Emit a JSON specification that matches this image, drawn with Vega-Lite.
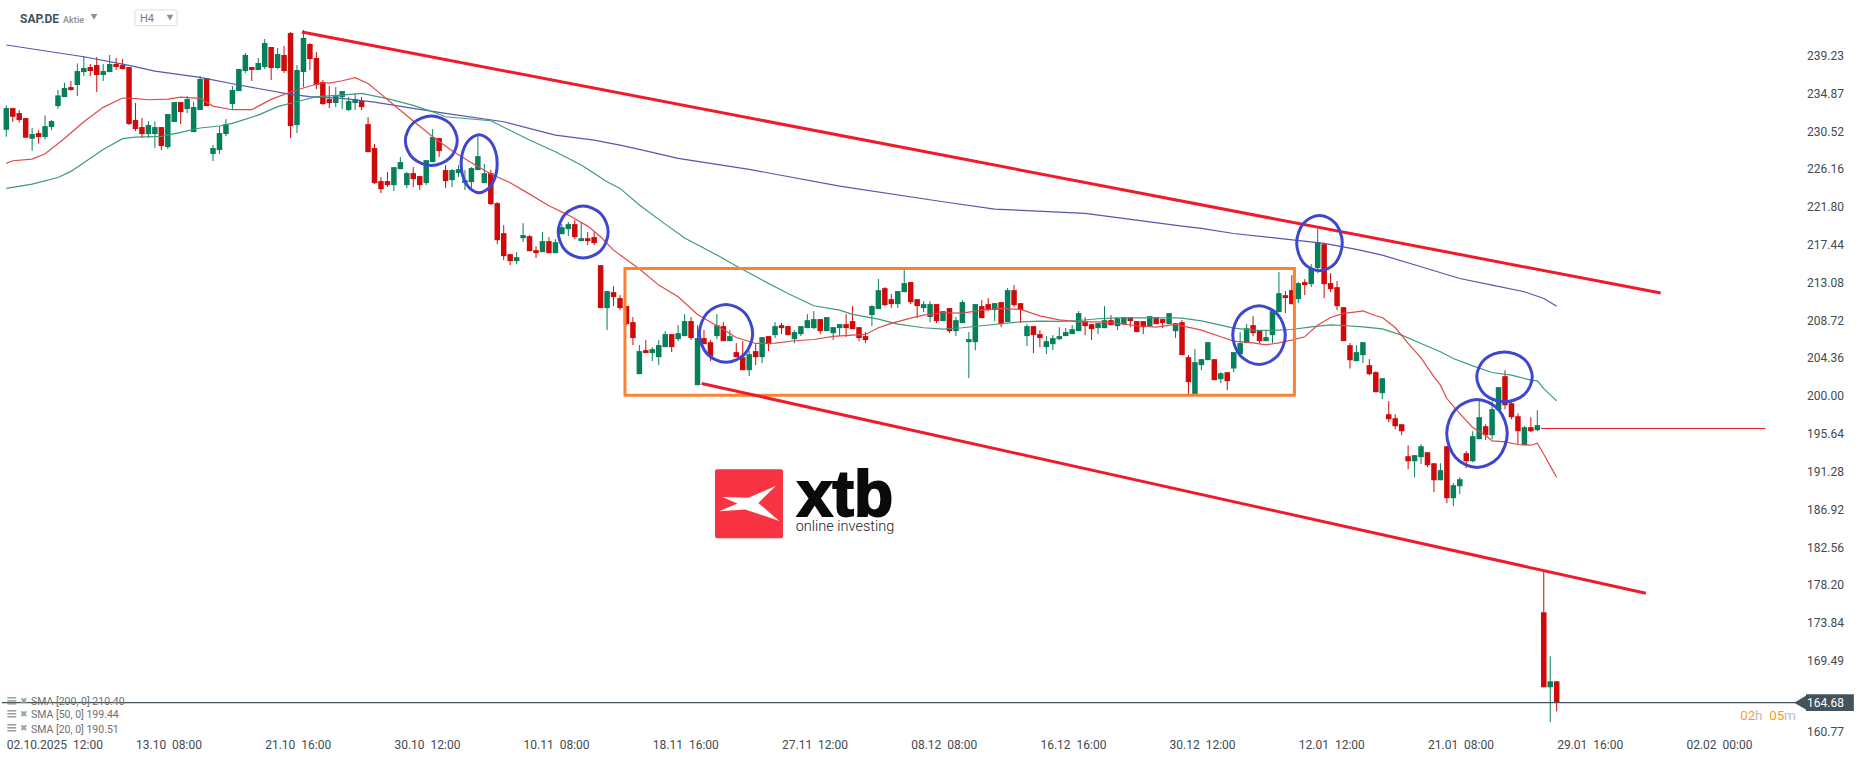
{"$schema":"https://vega.github.io/schema/vega-lite/v6.json","width":1866,"height":761,"autosize":{"type":"none"},"padding":0,"background":"#ffffff","config":{"view":{"stroke":null},"text":{"font":"Roboto"}},
"datasets":{
"candles":[
{"i":0,"o":230.73,"h":233.54,"l":229.93,"c":233.23},{"i":1,"o":233.23,"h":233.23,"l":231.65,"c":232.23},{"i":2,"o":232.65,"h":233.0,"l":231.54,"c":231.85},{"i":3,"o":232.08,"h":232.08,"l":229.81,"c":229.81},{"i":4,"o":229.7,"h":230.92,"l":228.31,"c":230.23},{"i":5,"o":230.35,"h":230.69,"l":229.12,"c":229.89},{"i":6,"o":229.89,"h":232.39,"l":229.62,"c":231.15},{"i":7,"o":231.04,"h":231.85,"l":230.69,"c":231.73},{"i":8,"o":233.46,"h":235.31,"l":233.16,"c":234.69},{"i":9,"o":234.5,"h":236.15,"l":234.5,"c":235.54},
{"i":10,"o":235.65,"h":236.35,"l":235.23,"c":235.31},{"i":11,"o":235.89,"h":238.38,"l":234.62,"c":237.5},{"i":12,"o":237.38,"h":239.23,"l":236.92,"c":237.85},{"i":13,"o":237.96,"h":238.31,"l":236.92,"c":237.5},{"i":14,"o":238.19,"h":239.11,"l":235.08,"c":237.04},{"i":15,"o":237.04,"h":238.31,"l":236.35,"c":237.5},{"i":16,"o":237.38,"h":239.35,"l":237.38,"c":238.31},{"i":17,"o":238.31,"h":239.0,"l":237.62,"c":237.96},{"i":18,"o":238.19,"h":238.88,"l":237.69,"c":237.73},{"i":19,"o":237.96,"h":237.96,"l":231.27,"c":231.39},
{"i":20,"o":231.85,"h":233.81,"l":230.58,"c":230.81},{"i":21,"o":231.04,"h":232.08,"l":229.77,"c":230.23},{"i":22,"o":230.23,"h":231.73,"l":229.77,"c":231.27},{"i":23,"o":230.23,"h":231.69,"l":228.62,"c":231.04},{"i":24,"o":231.04,"h":231.04,"l":228.39,"c":228.85},{"i":25,"o":228.73,"h":232.54,"l":228.5,"c":232.54},{"i":26,"o":231.62,"h":233.92,"l":231.62,"c":233.92},{"i":27,"o":233.92,"h":233.92,"l":231.39,"c":232.77},{"i":28,"o":233.12,"h":234.62,"l":232.65,"c":234.27},{"i":29,"o":230.46,"h":233.92,"l":230.46,"c":233.35},
{"i":30,"o":233.0,"h":236.92,"l":233.0,"c":236.58},{"i":31,"o":236.69,"h":236.69,"l":233.46,"c":233.46},{"i":32,"o":227.93,"h":228.96,"l":227.12,"c":228.62},{"i":33,"o":228.39,"h":231.15,"l":227.93,"c":230.35},{"i":34,"o":230.23,"h":231.96,"l":230.0,"c":231.39},{"i":35,"o":233.69,"h":235.77,"l":233.0,"c":235.31},{"i":36,"o":235.19,"h":237.73,"l":235.19,"c":237.73},{"i":37,"o":237.5,"h":239.58,"l":237.27,"c":239.35},{"i":38,"o":237.96,"h":237.96,"l":236.35,"c":237.62},{"i":39,"o":237.62,"h":239.0,"l":237.62,"c":238.42},
{"i":40,"o":237.96,"h":241.19,"l":237.73,"c":240.73},{"i":41,"o":240.27,"h":240.27,"l":236.46,"c":237.85},{"i":42,"o":237.85,"h":240.15,"l":237.73,"c":239.46},{"i":43,"o":239.35,"h":240.38,"l":237.27,"c":237.5},{"i":44,"o":241.88,"h":242.0,"l":229.77,"c":231.15},{"i":45,"o":231.27,"h":238.19,"l":230.35,"c":237.62},{"i":46,"o":237.38,"h":242.23,"l":235.65,"c":241.31},{"i":47,"o":240.62,"h":240.73,"l":237.62,"c":238.88},{"i":48,"o":239.0,"h":239.69,"l":235.42,"c":235.89},{"i":49,"o":236.23,"h":236.46,"l":233.58,"c":233.69},
{"i":50,"o":234.27,"h":235.77,"l":233.23,"c":233.81},{"i":51,"o":233.81,"h":235.65,"l":233.34,"c":234.61},{"i":52,"o":234.5,"h":235.19,"l":233.11,"c":235.19},{"i":53,"o":233.0,"h":234.5,"l":232.88,"c":234.04},{"i":54,"o":233.81,"h":234.96,"l":233.0,"c":234.27},{"i":55,"o":234.04,"h":234.5,"l":233.0,"c":233.34},{"i":56,"o":231.38,"h":232.19,"l":228.15,"c":228.15},{"i":57,"o":228.62,"h":229.08,"l":224.46,"c":224.58},{"i":58,"o":224.81,"h":225.27,"l":223.42,"c":223.88},{"i":59,"o":224.81,"h":225.85,"l":224.12,"c":224.35},
{"i":60,"o":224.35,"h":226.42,"l":223.66,"c":226.42},{"i":61,"o":226.19,"h":227.58,"l":226.19,"c":227.0},{"i":62,"o":224.35,"h":225.85,"l":224.0,"c":225.73},{"i":63,"o":225.73,"h":226.42,"l":224.12,"c":225.04},{"i":64,"o":225.39,"h":225.39,"l":223.77,"c":224.35},{"i":65,"o":224.58,"h":227.23,"l":224.35,"c":227.23},{"i":66,"o":227.0,"h":230.81,"l":227.0,"c":229.88},{"i":67,"o":229.77,"h":229.77,"l":227.58,"c":228.27},{"i":68,"o":226.08,"h":226.65,"l":224.0,"c":224.81},{"i":69,"o":224.92,"h":226.19,"l":224.12,"c":226.08},
{"i":70,"o":225.73,"h":226.65,"l":225.27,"c":226.19},{"i":71,"o":224.58,"h":226.08,"l":223.77,"c":224.92},{"i":72,"o":224.69,"h":226.42,"l":224.0,"c":226.31},{"i":73,"o":226.08,"h":230.0,"l":226.08,"c":227.69},{"i":74,"o":224.58,"h":226.77,"l":224.58,"c":225.73},{"i":75,"o":225.73,"h":226.08,"l":222.04,"c":222.16},{"i":76,"o":222.27,"h":222.39,"l":217.54,"c":218.0},{"i":77,"o":218.81,"h":219.73,"l":215.7,"c":216.16},{"i":78,"o":216.39,"h":216.39,"l":215.12,"c":215.58},{"i":79,"o":215.58,"h":216.62,"l":215.23,"c":216.04},
{"i":80,"o":218.23,"h":219.96,"l":217.77,"c":218.58},{"i":81,"o":218.46,"h":218.58,"l":216.73,"c":216.73},{"i":82,"o":216.85,"h":217.31,"l":215.93,"c":216.5},{"i":83,"o":216.62,"h":218.93,"l":216.62,"c":217.89},{"i":84,"o":217.89,"h":218.35,"l":216.5,"c":216.5},{"i":85,"o":216.5,"h":218.12,"l":216.5,"c":217.77},{"i":86,"o":218.69,"h":219.85,"l":218.69,"c":219.5},{"i":87,"o":219.27,"h":220.08,"l":218.46,"c":219.85},{"i":88,"o":219.85,"h":220.31,"l":218.12,"c":218.35},{"i":89,"o":217.89,"h":220.08,"l":217.89,"c":218.23},
{"i":90,"o":218.23,"h":218.93,"l":217.43,"c":217.89},{"i":91,"o":218.35,"h":219.04,"l":217.43,"c":217.66},{"i":92,"o":215.12,"h":215.12,"l":210.17,"c":210.17},{"i":93,"o":210.17,"h":212.13,"l":207.63,"c":212.13},{"i":94,"o":212.01,"h":212.7,"l":210.4,"c":211.44},{"i":95,"o":211.32,"h":211.67,"l":209.94,"c":210.17},{"i":96,"o":210.4,"h":210.4,"l":208.2,"c":208.32},{"i":97,"o":208.55,"h":209.13,"l":205.9,"c":206.71},{"i":98,"o":202.55,"h":205.9,"l":202.55,"c":205.21},{"i":99,"o":205.32,"h":206.48,"l":204.98,"c":204.98},
{"i":100,"o":204.98,"h":205.67,"l":204.05,"c":205.44},{"i":101,"o":204.51,"h":206.48,"l":203.59,"c":205.9},{"i":102,"o":205.67,"h":207.51,"l":205.67,"c":207.17},{"i":103,"o":207.17,"h":207.17,"l":205.09,"c":205.67},{"i":104,"o":206.59,"h":208.2,"l":206.36,"c":207.28},{"i":105,"o":206.94,"h":209.47,"l":206.94,"c":208.67},{"i":106,"o":208.67,"h":209.13,"l":206.48,"c":206.71},{"i":107,"o":201.28,"h":208.2,"l":201.28,"c":206.71},{"i":108,"o":206.71,"h":207.63,"l":206.01,"c":206.01},{"i":109,"o":206.24,"h":206.48,"l":204.05,"c":204.63},
{"i":110,"o":206.94,"h":209.47,"l":206.59,"c":208.2},{"i":111,"o":208.09,"h":208.55,"l":206.36,"c":206.36},{"i":112,"o":206.36,"h":207.63,"l":206.36,"c":206.94},{"i":113,"o":205.09,"h":206.13,"l":204.51,"c":204.51},{"i":114,"o":204.51,"h":206.36,"l":203.01,"c":203.01},{"i":115,"o":203.01,"h":205.21,"l":202.32,"c":204.86},{"i":116,"o":205.21,"h":206.01,"l":203.59,"c":204.51},{"i":117,"o":204.51,"h":206.82,"l":203.82,"c":206.82},{"i":118,"o":206.94,"h":206.94,"l":205.21,"c":206.01},{"i":119,"o":207.05,"h":208.55,"l":206.71,"c":208.09},
{"i":120,"o":208.2,"h":208.44,"l":207.17,"c":207.86},{"i":121,"o":208.09,"h":208.09,"l":207.05,"c":207.05},{"i":122,"o":206.59,"h":207.63,"l":206.13,"c":207.4},{"i":123,"o":207.17,"h":208.09,"l":206.94,"c":208.09},{"i":124,"o":207.86,"h":209.47,"l":207.86,"c":208.78},{"i":125,"o":207.86,"h":209.82,"l":207.74,"c":208.9},{"i":126,"o":208.9,"h":208.9,"l":207.17,"c":207.51},{"i":127,"o":207.51,"h":209.13,"l":207.51,"c":209.13},{"i":128,"o":207.28,"h":207.97,"l":206.48,"c":207.97},{"i":129,"o":207.86,"h":208.32,"l":206.94,"c":208.32},
{"i":130,"o":208.32,"h":209.47,"l":206.82,"c":207.86},{"i":131,"o":208.67,"h":210.4,"l":207.74,"c":207.74},{"i":132,"o":207.97,"h":207.97,"l":206.36,"c":206.71},{"i":133,"o":206.94,"h":207.4,"l":206.13,"c":206.48},{"i":134,"o":209.36,"h":210.51,"l":208.09,"c":210.4},{"i":135,"o":210.05,"h":213.51,"l":210.05,"c":212.24},{"i":136,"o":212.47,"h":212.59,"l":210.4,"c":210.51},{"i":137,"o":211.2,"h":211.78,"l":210.17,"c":210.63},{"i":138,"o":210.63,"h":212.13,"l":210.17,"c":212.13},{"i":139,"o":212.01,"h":214.55,"l":212.01,"c":213.05},
{"i":140,"o":213.17,"h":213.17,"l":210.63,"c":210.86},{"i":141,"o":211.2,"h":211.2,"l":209.01,"c":210.4},{"i":142,"o":210.17,"h":210.97,"l":209.7,"c":210.63},{"i":143,"o":209.13,"h":210.97,"l":208.55,"c":210.63},{"i":144,"o":210.63,"h":210.63,"l":208.44,"c":208.67},{"i":145,"o":208.67,"h":209.82,"l":208.67,"c":209.82},{"i":146,"o":210.17,"h":210.17,"l":207.28,"c":207.51},{"i":147,"o":207.51,"h":209.13,"l":206.94,"c":208.78},{"i":148,"o":208.44,"h":211.09,"l":208.44,"c":210.86},{"i":149,"o":206.24,"h":207.4,"l":202.09,"c":206.59},
{"i":150,"o":206.24,"h":210.63,"l":205.32,"c":210.63},{"i":151,"o":210.4,"h":211.09,"l":209.01,"c":209.01},{"i":152,"o":210.63,"h":211.32,"l":209.82,"c":209.94},{"i":153,"o":209.94,"h":210.74,"l":208.67,"c":210.74},{"i":154,"o":210.86,"h":210.86,"l":207.97,"c":208.32},{"i":155,"o":208.55,"h":212.47,"l":208.55,"c":212.24},{"i":156,"o":212.24,"h":212.82,"l":210.28,"c":210.51},{"i":157,"o":210.74,"h":210.74,"l":208.44,"c":209.94},{"i":158,"o":206.94,"h":208.32,"l":205.78,"c":208.09},{"i":159,"o":208.09,"h":208.09,"l":204.98,"c":207.05},
{"i":160,"o":207.17,"h":207.63,"l":205.67,"c":206.71},{"i":161,"o":205.67,"h":206.94,"l":204.86,"c":206.36},{"i":162,"o":206.01,"h":207.05,"l":205.32,"c":206.71},{"i":163,"o":206.59,"h":207.97,"l":206.48,"c":206.94},{"i":164,"o":206.94,"h":207.86,"l":206.94,"c":207.4},{"i":165,"o":207.17,"h":208.2,"l":207.17,"c":207.74},{"i":166,"o":207.51,"h":209.82,"l":207.51,"c":209.59},{"i":167,"o":208.67,"h":209.13,"l":207.05,"c":208.09},{"i":168,"o":208.32,"h":208.32,"l":206.48,"c":207.74},{"i":169,"o":207.86,"h":208.44,"l":207.17,"c":208.44},
{"i":170,"o":207.86,"h":210.4,"l":207.86,"c":208.78},{"i":171,"o":208.78,"h":209.36,"l":208.2,"c":208.2},{"i":172,"o":208.09,"h":209.13,"l":207.63,"c":209.01},{"i":173,"o":208.32,"h":209.13,"l":208.2,"c":209.13},{"i":174,"o":209.13,"h":209.13,"l":207.97,"c":208.67},{"i":175,"o":208.67,"h":208.67,"l":207.4,"c":207.4},{"i":176,"o":208.67,"h":208.67,"l":207.17,"c":207.97},{"i":177,"o":208.09,"h":209.24,"l":208.09,"c":209.24},{"i":178,"o":209.13,"h":209.13,"l":208.32,"c":208.32},{"i":179,"o":208.9,"h":208.9,"l":207.86,"c":208.44},
{"i":180,"o":208.32,"h":209.59,"l":208.32,"c":209.59},{"i":181,"o":207.51,"h":208.44,"l":206.71,"c":208.44},{"i":182,"o":208.55,"h":208.78,"l":204.75,"c":204.75},{"i":183,"o":204.51,"h":204.75,"l":200.25,"c":201.63},{"i":184,"o":200.25,"h":205.44,"l":200.25,"c":203.94},{"i":185,"o":203.59,"h":204.28,"l":203.01,"c":204.28},{"i":186,"o":204.17,"h":206.24,"l":204.17,"c":206.24},{"i":187,"o":204.28,"h":204.28,"l":201.86,"c":201.86},{"i":188,"o":201.97,"h":202.78,"l":201.51,"c":202.66},{"i":189,"o":202.78,"h":202.78,"l":200.7,"c":201.74},
{"i":190,"o":203.2,"h":205.09,"l":202.78,"c":205.09},{"i":191,"o":204.86,"h":207.39,"l":204.86,"c":206.13},{"i":192,"o":206.13,"h":208.32,"l":206.13,"c":207.85},{"i":193,"o":208.2,"h":209.24,"l":206.93,"c":207.28},{"i":194,"o":207.62,"h":207.62,"l":206.13,"c":206.36},{"i":195,"o":206.36,"h":207.62,"l":206.36,"c":206.82},{"i":196,"o":207.05,"h":209.82,"l":206.13,"c":209.82},{"i":197,"o":209.7,"h":214.31,"l":209.7,"c":211.89},{"i":198,"o":211.66,"h":212.12,"l":209.59,"c":211.32},{"i":199,"o":212.24,"h":213.97,"l":210.62,"c":210.62},
{"i":200,"o":211.2,"h":213.16,"l":210.74,"c":213.05},{"i":201,"o":213.16,"h":213.51,"l":211.66,"c":212.82},{"i":202,"o":212.93,"h":215.24,"l":212.58,"c":214.78},{"i":203,"o":214.78,"h":219.27,"l":214.2,"c":217.78},{"i":204,"o":217.54,"h":217.54,"l":211.32,"c":212.93},{"i":205,"o":213.05,"h":214.2,"l":212.01,"c":212.35},{"i":206,"o":212.58,"h":213.28,"l":209.93,"c":210.39},{"i":207,"o":210.28,"h":210.28,"l":206.36,"c":206.36},{"i":208,"o":205.89,"h":206.13,"l":203.2,"c":204.16},{"i":209,"o":204.05,"h":205.89,"l":204.05,"c":205.09},
{"i":210,"o":204.74,"h":206.24,"l":203.82,"c":206.24},{"i":211,"o":203.59,"h":204.28,"l":202.43,"c":202.55},{"i":212,"o":202.78,"h":202.9,"l":200.47,"c":200.47},{"i":213,"o":200.36,"h":202.09,"l":199.67,"c":202.09},{"i":214,"o":197.93,"h":199.44,"l":197.01,"c":197.36},{"i":215,"o":197.47,"h":197.93,"l":196.2,"c":196.55},{"i":216,"o":196.78,"h":196.78,"l":195.51,"c":195.97},{"i":217,"o":193.09,"h":194.36,"l":191.59,"c":192.51},{"i":218,"o":192.51,"h":193.21,"l":190.67,"c":193.21},{"i":219,"o":192.98,"h":194.47,"l":192.17,"c":194.24},
{"i":220,"o":193.55,"h":193.55,"l":191.82,"c":192.05},{"i":221,"o":192.28,"h":192.28,"l":188.94,"c":190.32},{"i":222,"o":190.32,"h":192.28,"l":190.32,"c":191.48},{"i":223,"o":194.24,"h":194.24,"l":187.67,"c":188.25},{"i":224,"o":188.25,"h":189.98,"l":187.32,"c":189.75},{"i":225,"o":189.63,"h":190.67,"l":188.71,"c":190.44},{"i":226,"o":193.44,"h":193.67,"l":191.71,"c":192.51},{"i":227,"o":192.51,"h":195.97,"l":192.4,"c":195.4},{"i":228,"o":195.05,"h":199.44,"l":195.05,"c":197.59},{"i":229,"o":196.55,"h":196.78,"l":194.94,"c":195.51},
{"i":230,"o":195.51,"h":199.44,"l":195.05,"c":198.51},{"i":231,"o":198.4,"h":201.05,"l":198.4,"c":201.05},{"i":232,"o":202.32,"h":203.01,"l":198.51,"c":198.97},{"i":233,"o":199.2,"h":199.32,"l":197.36,"c":197.59},{"i":234,"o":197.7,"h":198.05,"l":194.36,"c":195.97},{"i":235,"o":194.36,"h":196.55,"l":194.36,"c":196.44},{"i":236,"o":196.44,"h":197.59,"l":195.86,"c":195.97},{"i":237,"o":196.09,"h":198.4,"l":195.97,"c":196.67},{"i":238,"o":175.1,"h":179.83,"l":166.45,"c":166.45},{"i":239,"o":166.45,"h":170.03,"l":162.42,"c":167.14},{"i":240,"o":167.14,"h":167.14,"l":163.68,"c":164.68}
],
"sma20":[{"i":0,"p":226.85},{"i":1,"p":227.16},{"i":4,"p":227.35},{"i":6,"p":227.96},{"i":9,"p":229.73},{"i":12,"p":231.65},{"i":15,"p":233.31},{"i":18,"p":234.39},{"i":20,"p":234.31},{"i":22,"p":234.19},{"i":25,"p":234.27},{"i":27,"p":234.5},{"i":30,"p":234.35},{"i":32,"p":233.46},{"i":35,"p":233.04},{"i":38,"p":233.04},{"i":41,"p":234.23},{"i":44,"p":235.08},{"i":47,"p":235.77},{"i":49,"p":236.15},{"i":50,"p":236.11},{"i":52,"p":236.38},{"i":54,"p":236.73},{"i":56,"p":236.07},{"i":58,"p":234.84},{"i":60,"p":233.58},{"i":63,"p":231.73},{"i":66,"p":229.92},{"i":69,"p":228.31},{"i":72,"p":226.92},{"i":75,"p":225.62},{"i":78,"p":224.62},{"i":81,"p":223.31},{"i":84,"p":221.96},{"i":87,"p":220.89},{"i":90,"p":219.62},{"i":92,"p":218.39},{"i":94,"p":216.85},{"i":97,"p":215.23},{"i":98,"p":214.67},{"i":101,"p":212.82},{"i":104,"p":211.47},{"i":107,"p":209.44},{"i":110,"p":208.13},{"i":113,"p":206.78},{"i":116,"p":206.09},{"i":119,"p":206.13},{"i":122,"p":206.4},{"i":125,"p":206.55},{"i":128,"p":206.9},{"i":131,"p":207.05},{"i":133,"p":207.13},{"i":135,"p":207.9},{"i":137,"p":208.4},{"i":140,"p":209.01},{"i":142,"p":209.36},{"i":145,"p":209.63},{"i":148,"p":209.59},{"i":151,"p":209.94},{"i":154,"p":210.13},{"i":157,"p":210.01},{"i":160,"p":209.28},{"i":163,"p":208.82},{"i":166,"p":208.59},{"i":169,"p":208.59},{"i":172,"p":208.4},{"i":175,"p":208.13},{"i":178,"p":207.97},{"i":181,"p":208.28},{"i":182,"p":208.12},{"i":185,"p":207.62},{"i":188,"p":206.86},{"i":190,"p":206.36},{"i":193,"p":206.16},{"i":195,"p":205.93},{"i":197,"p":206.16},{"i":199,"p":206.47},{"i":201,"p":206.86},{"i":203,"p":208.2},{"i":205,"p":209.09},{"i":207,"p":209.55},{"i":209,"p":209.74},{"i":210,"p":209.85},{"i":212,"p":209.28},{"i":213,"p":209.09},{"i":215,"p":207.93},{"i":217,"p":206.09},{"i":219,"p":204.43},{"i":221,"p":202.24},{"i":222,"p":201.28},{"i":223,"p":199.74},{"i":225,"p":198.01},{"i":227,"p":196.4},{"i":229,"p":195.51},{"i":230,"p":194.86},{"i":232,"p":194.74},{"i":234,"p":194.44},{"i":236,"p":194.36},{"i":237,"p":194.59},{"i":238,"p":193.32},{"i":239,"p":191.98},{"i":240,"p":190.63}],
"sma50":[{"i":0,"p":223.97},{"i":4,"p":224.47},{"i":8,"p":225.23},{"i":10,"p":225.93},{"i":12,"p":226.93},{"i":15,"p":228.46},{"i":18,"p":229.7},{"i":20,"p":229.89},{"i":24,"p":229.96},{"i":27,"p":230.43},{"i":30,"p":230.93},{"i":33,"p":231.16},{"i":35,"p":231.46},{"i":39,"p":232.42},{"i":42,"p":233.39},{"i":46,"p":234.16},{"i":48,"p":234.54},{"i":52,"p":234.73},{"i":55,"p":234.92},{"i":59,"p":234.31},{"i":63,"p":233.54},{"i":66,"p":232.81},{"i":68,"p":232.23},{"i":75,"p":231.77},{"i":81,"p":229.54},{"i":85,"p":228.2},{"i":89,"p":226.66},{"i":93,"p":224.73},{"i":95,"p":223.97},{"i":98,"p":222.05},{"i":102,"p":219.85},{"i":105,"p":218.24},{"i":110,"p":216.28},{"i":113,"p":215.01},{"i":117,"p":213.4},{"i":121,"p":211.86},{"i":125,"p":210.44},{"i":129,"p":209.94},{"i":131,"p":209.44},{"i":135,"p":208.9},{"i":138,"p":208.32},{"i":142,"p":207.9},{"i":145,"p":207.74},{"i":148,"p":207.9},{"i":151,"p":208.13},{"i":154,"p":208.36},{"i":157,"p":208.59},{"i":160,"p":208.67},{"i":163,"p":208.63},{"i":166,"p":208.74},{"i":169,"p":208.94},{"i":172,"p":209.05},{"i":175,"p":209.05},{"i":178,"p":209.05},{"i":181,"p":209.05},{"i":182,"p":209.01},{"i":185,"p":208.7},{"i":188,"p":208.2},{"i":190,"p":207.85},{"i":193,"p":207.62},{"i":196,"p":207.59},{"i":199,"p":207.7},{"i":202,"p":208.01},{"i":205,"p":208.24},{"i":207,"p":208.16},{"i":210,"p":208.01},{"i":213,"p":207.78},{"i":216,"p":207.05},{"i":219,"p":206.09},{"i":222,"p":205.13},{"i":224,"p":204.36},{"i":227,"p":203.51},{"i":230,"p":202.74},{"i":233,"p":202.43},{"i":236,"p":201.86},{"i":237,"p":201.78},{"i":238,"p":200.88},{"i":240,"p":199.47}],
"sma200":[{"i":0,"p":240.5},{"i":12,"p":239.15},{"i":19,"p":238.15},{"i":23,"p":237.5},{"i":30,"p":236.77},{"i":36,"p":235.89},{"i":44,"p":234.81},{"i":47,"p":234.54},{"i":52,"p":234.35},{"i":57,"p":233.92},{"i":63,"p":233.19},{"i":68,"p":232.62},{"i":77,"p":231.65},{"i":85,"p":230.12},{"i":91,"p":229.54},{"i":95,"p":228.96},{"i":98,"p":228.47},{"i":104,"p":227.43},{"i":115,"p":226.16},{"i":129,"p":224.24},{"i":145,"p":222.43},{"i":153,"p":221.58},{"i":167,"p":221.09},{"i":182,"p":219.62},{"i":185,"p":219.36},{"i":190,"p":218.77},{"i":197,"p":218.2},{"i":204,"p":217.62},{"i":209,"p":216.93},{"i":213,"p":216.28},{"i":219,"p":214.93},{"i":225,"p":213.58},{"i":230,"p":212.82},{"i":235,"p":212.05},{"i":238,"p":211.28},{"i":240,"p":210.39}],
"channels":[{"line":"upper","i":45.77,"p":242.0},{"line":"upper","i":256.1,"p":211.9},{"line":"lower","i":107.65,"p":201.48},{"line":"lower","i":253.8,"p":177.29}],
"level":[{"i":237.6,"p":196.29},{"i":272.3,"p":196.29}],
"range":[{"i":95.77,"i2":199.4,"p":214.74,"p2":200.13}],
"rings":[
{"r":1,"k":0,"i":69.81,"p":229.47},{"r":1,"k":1,"i":68.63,"p":231.48},{"r":1,"k":2,"i":65.79,"p":232.32},{"r":1,"k":3,"i":62.95,"p":231.48},{"r":1,"k":4,"i":61.77,"p":229.47},{"r":1,"k":5,"i":62.95,"p":227.46},{"r":1,"k":6,"i":65.79,"p":226.62},{"r":1,"k":7,"i":68.63,"p":227.46},
{"r":2,"k":0,"i":75.99,"p":226.81},{"r":2,"k":1,"i":75.17,"p":229.17},{"r":2,"k":2,"i":73.2,"p":230.15},{"r":2,"k":3,"i":71.23,"p":229.17},{"r":2,"k":4,"i":70.41,"p":226.81},{"r":2,"k":5,"i":71.23,"p":224.45},{"r":2,"k":6,"i":73.2,"p":223.47},{"r":2,"k":7,"i":75.17,"p":224.45},
{"r":3,"k":0,"i":93.17,"p":218.93},{"r":3,"k":1,"i":92.04,"p":221.05},{"r":3,"k":2,"i":89.3,"p":221.93},{"r":3,"k":3,"i":86.56,"p":221.05},{"r":3,"k":4,"i":85.43,"p":218.93},{"r":3,"k":5,"i":86.56,"p":216.81},{"r":3,"k":6,"i":89.3,"p":215.93},{"r":3,"k":7,"i":92.04,"p":216.81},
{"r":4,"k":0,"i":115.54,"p":207.25},{"r":4,"k":1,"i":114.33,"p":209.61},{"r":4,"k":2,"i":111.41,"p":210.59},{"r":4,"k":3,"i":108.49,"p":209.61},{"r":4,"k":4,"i":107.28,"p":207.25},{"r":4,"k":5,"i":108.49,"p":204.89},{"r":4,"k":6,"i":111.41,"p":203.91},{"r":4,"k":7,"i":114.33,"p":204.89},
{"r":5,"k":0,"i":197.99,"p":207.05},{"r":5,"k":1,"i":196.8,"p":209.44},{"r":5,"k":2,"i":193.92,"p":210.43},{"r":5,"k":3,"i":191.04,"p":209.44},{"r":5,"k":4,"i":189.85,"p":207.05},{"r":5,"k":5,"i":191.04,"p":204.66},{"r":5,"k":6,"i":193.92,"p":203.67},{"r":5,"k":7,"i":196.8,"p":204.66},
{"r":6,"k":0,"i":206.81,"p":217.66},{"r":6,"k":1,"i":205.78,"p":219.92},{"r":6,"k":2,"i":203.28,"p":220.85},{"r":6,"k":3,"i":200.78,"p":219.92},{"r":6,"k":4,"i":199.75,"p":217.66},{"r":6,"k":5,"i":200.78,"p":215.4},{"r":6,"k":6,"i":203.28,"p":214.47},{"r":6,"k":7,"i":205.78,"p":215.4},
{"r":7,"k":0,"i":232.35,"p":195.71},{"r":7,"k":1,"i":230.98,"p":198.48},{"r":7,"k":2,"i":227.66,"p":199.63},{"r":7,"k":3,"i":224.34,"p":198.48},{"r":7,"k":4,"i":222.97,"p":195.71},{"r":7,"k":5,"i":224.34,"p":192.94},{"r":7,"k":6,"i":227.66,"p":191.79},{"r":7,"k":7,"i":230.98,"p":192.94},
{"r":8,"k":0,"i":236.22,"p":202.24},{"r":8,"k":1,"i":234.96,"p":204.28},{"r":8,"k":2,"i":231.92,"p":205.12},{"r":8,"k":3,"i":228.88,"p":204.28},{"r":8,"k":4,"i":227.62,"p":202.24},{"r":8,"k":5,"i":228.88,"p":200.2},{"r":8,"k":6,"i":231.92,"p":199.36},{"r":8,"k":7,"i":234.96,"p":200.2}
],
"priceLabels":[{"i":278.75,"p":239.23,"t":"239.23"},{"i":278.75,"p":234.87,"t":"234.87"},{"i":278.75,"p":230.52,"t":"230.52"},{"i":278.75,"p":226.16,"t":"226.16"},{"i":278.75,"p":221.8,"t":"221.80"},{"i":278.75,"p":217.44,"t":"217.44"},{"i":278.75,"p":213.08,"t":"213.08"},{"i":278.75,"p":208.72,"t":"208.72"},{"i":278.75,"p":204.36,"t":"204.36"},{"i":278.75,"p":200,"t":"200.00"},{"i":278.75,"p":195.64,"t":"195.64"},{"i":278.75,"p":191.28,"t":"191.28"},{"i":278.75,"p":186.92,"t":"186.92"},{"i":278.75,"p":182.56,"t":"182.56"},{"i":278.75,"p":178.2,"t":"178.20"},{"i":278.75,"p":173.84,"t":"173.84"},{"i":278.75,"p":169.49,"t":"169.49"},{"i":278.75,"p":161.33,"t":"160.77"}]},
"encoding":{
"x":{"field":"i","type":"quantitative","title":null,"scale":{"domain":[-0.975,287.88],"nice":false,"zero":false},"axis":{"orient":"bottom","values":[0,20,40,60,80,100,120,140,160,180,200,220,240,260],"labelExpr":"['02.10.2025\u00a0\u00a012:00','13.10\u00a0\u00a008:00','21.10\u00a0\u00a016:00','30.10\u00a0\u00a012:00','10.11\u00a0\u00a008:00','18.11\u00a0\u00a016:00','27.11\u00a0\u00a012:00','08.12\u00a0\u00a008:00','16.12\u00a0\u00a016:00','30.12\u00a0\u00a012:00','12.01\u00a0\u00a012:00','21.01\u00a0\u00a008:00','29.01\u00a0\u00a016:00','02.02\u00a0\u00a000:00'][datum.value/20]","grid":false,"ticks":false,"tickSize":0,"domain":false,"labelPadding":-17,"labelAlign":"left","labelBaseline":"middle","labelFont":"Roboto","labelFontSize":12,"labelColor":"#3f4a52","labelOverlap":false,"labelBound":false,"labelFlush":false}},
"y":{"field":"p","type":"quantitative","title":null,"scale":{"domain":[157.95,245.69],"nice":false,"zero":false},"axis":null}
},
"layer":[
{"data":{"name":"candles"},"mark":{"type":"rule","strokeWidth":1},"encoding":{"y":{"field":"l","type":"quantitative","title":null,"scale":{"domain":[157.95,245.69],"nice":false,"zero":false},"axis":null},"y2":{"field":"h"},"color":{"condition":{"test":"datum.c>=datum.o","value":"#067f5b"},"value":"#cf0a0a"}}},
{"data":{"name":"candles"},"mark":{"type":"rule","strokeWidth":5.5},"encoding":{"y":{"field":"o","type":"quantitative","title":null,"scale":{"domain":[157.95,245.69],"nice":false,"zero":false},"axis":null},"y2":{"field":"c"},"color":{"condition":{"test":"datum.c>=datum.o","value":"#067f5b"},"value":"#cf0a0a"}}},
{"data":{"name":"priceLabels"},"mark":{"type":"text","align":"left","baseline":"middle","fontSize":12,"color":"#3f4a52"},"encoding":{"text":{"field":"t"}}},
{"data":{"name":"sma200"},"mark":{"type":"line","color":"#5458ae","strokeWidth":1.2}},
{"data":{"name":"sma50"},"mark":{"type":"line","color":"#3d9b7c","strokeWidth":1.2}},
{"data":{"name":"sma20"},"mark":{"type":"line","color":"#e04a4a","strokeWidth":1.2}},
{"data":{"name":"range"},"mark":{"type":"rect","fill":null,"stroke":"#fb8231","strokeWidth":3},"encoding":{"x2":{"field":"i2"},"y2":{"field":"p2"}}},
{"data":{"name":"channels"},"mark":{"type":"line","color":"#f01a2c","strokeWidth":3},"encoding":{"detail":{"field":"line"}}},
{"data":{"name":"level"},"mark":{"type":"line","color":"#e8141c","strokeWidth":1}},
{"data":{"name":"rings"},"mark":{"type":"line","color":"#3f46cf","strokeWidth":3,"interpolate":"cardinal-closed"},"encoding":{"detail":{"field":"r"},"order":{"field":"k"}}},
{"data":{"values":[{"i":-0.7,"i2":277.5,"p":164.68}]},"mark":{"type":"rule","color":"#44525b","strokeWidth":1.2},"encoding":{"x2":{"field":"i2"}}},
{"data":{"values":[{"i":278.59,"i2":286,"p":165.65,"p2":163.72}]},"mark":{"type":"rect","fill":"#44525b"},"encoding":{"x2":{"field":"i2"},"y2":{"field":"p2"}}},
{"data":{"values":[{"i":277.87,"p":164.68}]},"mark":{"type":"point","shape":"triangle-left","size":279,"filled":true,"color":"#44525b","opacity":1}},
{"data":{"values":[{"i":278.75,"p":164.62,"t":"164.68"}]},"mark":{"type":"text","align":"left","baseline":"middle","fontSize":12,"color":"#ffffff"},"encoding":{"text":{"field":"t"}}},
{"data":{"values":[{"i":268.4,"p":163.11,"t":"02"},{"i":272.9,"p":163.11,"t":"05"}]},"mark":{"type":"text","align":"left","baseline":"middle","fontSize":13.5,"color":"#ff9a1f"},"encoding":{"text":{"field":"t"}}},
{"data":{"values":[{"i":270.7,"p":163.11,"t":"h"},{"i":275.2,"p":163.11,"t":"m"}]},"mark":{"type":"text","align":"left","baseline":"middle","fontSize":13.5,"color":"#bdbdbd"},"encoding":{"text":{"field":"t"}}},
{"data":{"values":[{"i":3.82,"p":164.76,"t":"SMA [200, 0] 210.40"},{"i":3.82,"p":163.22,"t":"SMA [50, 0] 199.44"},{"i":3.82,"p":161.57,"t":"SMA [20, 0] 190.51"}]},"mark":{"type":"text","align":"left","baseline":"middle","fontSize":10.5,"color":"#6f6f6f"},"encoding":{"text":{"field":"t"}}},
{"data":{"values":[{"i":-0.05,"p":164.9,"t":"≡"},{"i":-0.05,"p":163.36,"t":"≡"},{"i":-0.05,"p":161.71,"t":"≡"}]},"mark":{"type":"text","align":"left","baseline":"middle","fontSize":14,"font":"DejaVu Sans","fontWeight":"bold","color":"#a0a0a0"},"encoding":{"text":{"field":"t"}}},
{"data":{"values":[{"i":2.12,"p":164.9,"t":"✖"},{"i":2.12,"p":163.36,"t":"✖"},{"i":2.12,"p":161.71,"t":"✖"}]},"mark":{"type":"text","align":"left","baseline":"middle","fontSize":9,"font":"DejaVu Sans","color":"#a0a0a0"},"encoding":{"text":{"field":"t"}}},
{"data":{"values":[{"i":2.12,"p":243.5,"t":"SAP.DE"}]},"mark":{"type":"text","align":"left","baseline":"middle","fontSize":12,"fontWeight":"bold","color":"#44525b"},"encoding":{"text":{"field":"t"}}},
{"data":{"values":[{"i":8.78,"p":243.4,"t":"Aktie"}]},"mark":{"type":"text","align":"left","baseline":"middle","fontSize":9,"fontWeight":"bold","color":"#9a9a9a"},"encoding":{"text":{"field":"t"}}},
{"data":{"values":[{"i":13.58,"p":243.75},{"i":25.34,"p":243.66}]},"mark":{"type":"point","shape":"triangle-down","size":45,"filled":true,"color":"#8f8f8f","opacity":1}},
{"data":{"values":[{"i":19.92,"i2":26.42,"p":244.54,"p2":242.75}]},"mark":{"type":"rect","fill":null,"stroke":"#dddddd","strokeWidth":1,"cornerRadius":2},"encoding":{"x2":{"field":"i2"},"y2":{"field":"p2"}}},
{"data":{"values":[{"i":20.7,"p":243.5,"t":"H4"}]},"mark":{"type":"text","align":"left","baseline":"middle","fontSize":11,"color":"#777777"},"encoding":{"text":{"field":"t"}}},
{"data":{"values":[{"i":109.71,"i2":120.23,"p":191.6,"p2":183.64}]},"mark":{"type":"rect","fill":"#f93442","cornerRadius":2},"encoding":{"x2":{"field":"i2"},"y2":{"field":"p2"}}},
{"data":{"values":[{"i":115.02,"p":187.64}]},"mark":{"type":"point","shape":"M-0.9,-0.22L-0.03,-0.19L0.89,-0.59L0.3,-0.02L1,0.58L-0.14,0.2L-1,0.26L-0.4,0Z","size":3600,"filled":true,"color":"#ffffff","opacity":1}},
{"data":{"values":[{"i":129.83,"p":186.18,"t":"xtb"}]},"mark":{"type":"text","align":"center","baseline":"alphabetic","font":"Liberation Sans","fontWeight":"bold","fontSize":64,"color":"#0a0a0a","stroke":"#0a0a0a","strokeWidth":2},"encoding":{"text":{"field":"t"}}},
{"data":{"values":[{"i":129.83,"p":184.91,"t":"online investing"}]},"mark":{"type":"text","align":"center","baseline":"middle","fontSize":14.5,"fontWeight":300,"color":"#222222"},"encoding":{"text":{"field":"t"}}}
]}
